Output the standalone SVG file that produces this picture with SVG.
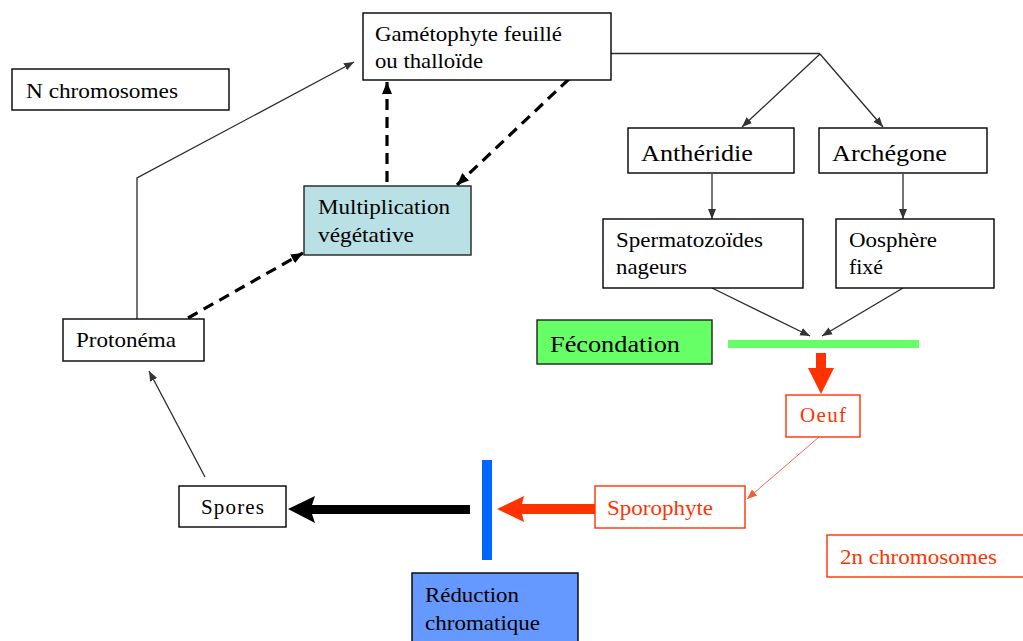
<svg xmlns="http://www.w3.org/2000/svg" width="1023" height="641" viewBox="0 0 1023 641">
<style>
  .box{fill:#fff;stroke:#000;stroke-width:1.4}
  .rbox{fill:#fff;stroke:#ff3300;stroke-width:1.4}
  text{font-family:'Liberation Serif','DejaVu Serif','Times New Roman',serif;font-size:21px}
  .t{fill:#000}
  .rt{fill:#ff3300}
  .thin{fill:none;stroke:#2a2a2a;stroke-width:1.3}
  .dash{fill:none;stroke:#000;stroke-width:3.2;stroke-dasharray:11 7}
</style>
<defs>
  <marker id="ah" markerUnits="userSpaceOnUse" markerWidth="10" markerHeight="10" viewBox="0 0 10 10" refX="10" refY="5" orient="auto">
    <path d="M0,1 L10,5 L0,9 Z" fill="#333"/>
  </marker>
  <marker id="ahr" markerUnits="userSpaceOnUse" markerWidth="10" markerHeight="10" viewBox="0 0 10 10" refX="10" refY="5" orient="auto">
    <path d="M0,1 L10,5 L0,9 Z" fill="#ff5533"/>
  </marker>
  <marker id="ahd" markerUnits="userSpaceOnUse" markerWidth="12" markerHeight="12" viewBox="0 0 12 12" refX="12" refY="6" orient="auto">
    <path d="M0,1 L12,6 L0,11 Z" fill="#000"/>
  </marker>
</defs>

<g id="connectors">
  <path class="thin" d="M611,53.5 L820,53.5"/>
  <path class="thin" d="M820,54 L742,127" marker-end="url(#ah)"/>
  <path class="thin" d="M820,54 L883,127" marker-end="url(#ah)"/>
  <path class="thin" d="M712,174 L712,219" marker-end="url(#ah)"/>
  <path class="thin" d="M903,174 L903,219" marker-end="url(#ah)"/>
  <path class="thin" d="M712,288 L810,336" marker-end="url(#ah)"/>
  <path class="thin" d="M903,288 L822,336" marker-end="url(#ah)"/>
  <rect x="728" y="340" width="191" height="8" fill="#66ff66"/>
  <path d="M816,353 L826,353 L826,368 L834,368 L821,394 L808,368 L816,368 Z" fill="#ff3300"/>
  <path d="M819,437 L747,499" fill="none" stroke="#ff6644" stroke-width="1" marker-end="url(#ahr)"/>
  <path d="M596,504 L522,504 L524,496 L497,509 L524,522 L522,514 L596,514 Z" fill="#ff3300"/>
  <rect x="482" y="460" width="10" height="100" fill="#0066ff"/>
  <path d="M470,505 L312,505 L315,496 L288,509 L315,523 L312,514 L470,514 Z" fill="#000"/>
  <path class="thin" d="M205,477 L149,371" marker-end="url(#ah)"/>
  <path class="thin" d="M137,319 L137,178 L354,62" marker-end="url(#ah)"/>
  <path class="dash" d="M188,318 L303,253" marker-end="url(#ahd)"/>
  <path class="dash" d="M387,182 L387,82" marker-end="url(#ahd)"/>
  <path class="dash" d="M569,79 L457,185" marker-end="url(#ahd)"/>
</g>

<g id="n-chromosomes">
  <rect class="box" x="12" y="69" width="217" height="41"/>
  <text class="t" x="26" y="98" textLength="152" lengthAdjust="spacingAndGlyphs">N chromosomes</text>
</g>

<g id="gametophyte">
  <rect class="box" x="363" y="13" width="248" height="67"/>
  <text class="t" x="375" y="41" textLength="187" lengthAdjust="spacingAndGlyphs">Gamétophyte feuillé</text>
  <text class="t" x="375" y="68" textLength="108" lengthAdjust="spacingAndGlyphs">ou thalloïde</text>
</g>

<g id="antheridie">
  <rect class="box" x="628" y="128" width="166" height="45"/>
  <text class="t" x="641" y="161" style="font-size:23px" textLength="112" lengthAdjust="spacingAndGlyphs">Anthéridie</text>
</g>

<g id="archegone">
  <rect class="box" x="819" y="128" width="168" height="45"/>
  <text class="t" x="832" y="161" style="font-size:23px" textLength="115" lengthAdjust="spacingAndGlyphs">Archégone</text>
</g>

<g id="spermatozoides">
  <rect class="box" x="603" y="219" width="200" height="69"/>
  <text class="t" x="616" y="247" textLength="147" lengthAdjust="spacingAndGlyphs">Spermatozoïdes</text>
  <text class="t" x="616" y="274" textLength="71" lengthAdjust="spacingAndGlyphs">nageurs</text>
</g>

<g id="oosphere">
  <rect class="box" x="836" y="219" width="158" height="69"/>
  <text class="t" x="849" y="247" textLength="88" lengthAdjust="spacingAndGlyphs">Oosphère</text>
  <text class="t" x="849" y="274" textLength="34" lengthAdjust="spacingAndGlyphs">fixé</text>
</g>

<g id="fecondation">
  <rect x="537" y="320" width="175" height="44" fill="#66ff66" stroke="#222" stroke-width="1.4"/>
  <text class="t" x="550" y="352" style="font-size:24px" textLength="130" lengthAdjust="spacingAndGlyphs">Fécondation</text>
</g>

<g id="oeuf">
  <rect class="rbox" x="786" y="395" width="74" height="42"/>
  <text class="rt" x="800" y="422" textLength="46" lengthAdjust="spacing">Oeuf</text>
</g>

<g id="sporophyte">
  <rect class="rbox" x="595" y="486" width="150" height="42"/>
  <text class="rt" x="607" y="515" textLength="106" lengthAdjust="spacingAndGlyphs">Sporophyte</text>
</g>

<g id="deux-n-chromosomes">
  <rect class="rbox" x="827" y="535" width="200" height="42"/>
  <text class="rt" x="840" y="564" textLength="157" lengthAdjust="spacingAndGlyphs">2n chromosomes</text>
</g>

<g id="spores">
  <rect class="box" x="179" y="486" width="107" height="41"/>
  <text class="t" x="201" y="514" textLength="63" lengthAdjust="spacing">Spores</text>
</g>

<g id="reduction">
  <rect x="412" y="573" width="166" height="72" fill="#6699ff" stroke="#000" stroke-width="1.4"/>
  <text class="t" x="425" y="602" textLength="94" lengthAdjust="spacingAndGlyphs">Réduction</text>
  <text class="t" x="425" y="630" textLength="115" lengthAdjust="spacingAndGlyphs">chromatique</text>
</g>

<g id="protonema">
  <rect class="box" x="63" y="319" width="141" height="42"/>
  <text class="t" x="76" y="347" textLength="100" lengthAdjust="spacingAndGlyphs">Protonéma</text>
</g>

<g id="multiplication">
  <rect x="304" y="186" width="167" height="69" fill="#b9e0e5" stroke="#222" stroke-width="1.4"/>
  <text class="t" x="318" y="214" textLength="132" lengthAdjust="spacingAndGlyphs">Multiplication</text>
  <text class="t" x="318" y="242" textLength="96" lengthAdjust="spacingAndGlyphs">végétative</text>
</g>
</svg>
